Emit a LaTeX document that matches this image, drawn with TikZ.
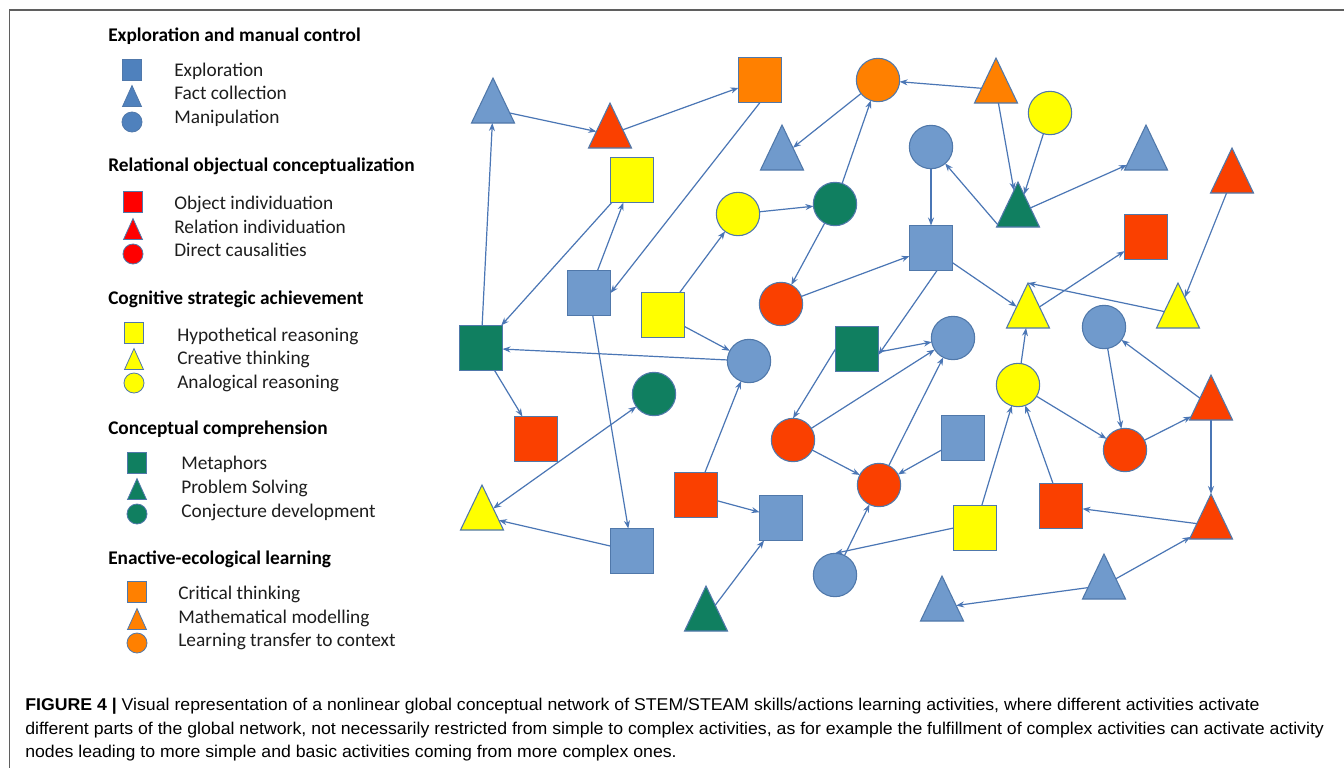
\documentclass[tikz,border=0pt]{standalone}
\usepackage{graphicx}
\usepackage{fontspec}
\setmainfont{Carlito}
\newfontfamily\capfont{Liberation Sans}
\usetikzlibrary{shapes.geometric,arrows.meta,calc}

\definecolor{nblue}{RGB}{112,154,204}
\definecolor{lblue}{RGB}{79,129,189}
\definecolor{nred}{RGB}{250,64,0}
\definecolor{lred}{RGB}{255,0,0}
\definecolor{nyel}{RGB}{255,255,0}
\definecolor{ngreen}{RGB}{16,127,96}
\definecolor{norange}{RGB}{255,128,0}
\definecolor{bord}{RGB}{80,120,170}
\definecolor{edgec}{RGB}{74,118,181}
\definecolor{framec}{RGB}{95,95,95}
\definecolor{txt}{RGB}{30,30,30}
\definecolor{captxt}{RGB}{50,50,50}

\newsavebox\capA \newsavebox\capB \newsavebox\capC
\newcommand\capsize{\capfont\fontsize{12.8pt}{16pt}\selectfont}
\newlength\capBw

\begin{document}
\sbox\capA{\capsize\textbf{FIGURE 4 |} Visual representation of a nonlinear global conceptual network of STEM/STEAM skills/actions learning activities, where different activities activate}%
\sbox\capB{\capsize different parts of the global network, not necessarily restricted from simple to complex activities, as for example the fulfillment of complex activities can activate activity}%
\sbox\capC{\capsize nodes leading to more simple and basic activities coming from more complex ones.}%
\setlength\capBw{\wd\capB}%
\begin{tikzpicture}[x=0.75pt,y=-0.75pt,
  sq/.style={rectangle,draw=bord,line width=0.8pt,minimum width=32.25pt,minimum height=33.75pt,inner sep=0pt,outer sep=0pt},
  ci/.style={circle,draw=bord,line width=0.8pt,minimum size=32.5pt,inner sep=0pt,outer sep=0pt},
  tr/.style={isosceles triangle,isosceles triangle stretches,shape border rotate=90,draw=bord,line width=0.8pt,minimum width=32.25pt,minimum height=33.75pt,inner sep=0pt,outer sep=0pt,anchor=apex},
  lsq/.style={rectangle,draw=bord,line width=0.6pt,minimum width=14.25pt,minimum height=15.75pt,inner sep=0pt},
  lci/.style={circle,draw=bord,line width=0.6pt,minimum size=15pt,inner sep=0pt},
  ltr/.style={isosceles triangle,isosceles triangle stretches,shape border rotate=90,draw=bord,line width=0.6pt,minimum width=14.25pt,minimum height=15.75pt,inner sep=0pt,anchor=apex},
  arr/.style={draw=edgec,line width=0.9pt,-{Stealth[length=6pt,width=4.5pt]}},
  head/.style={anchor=base west,inner sep=0pt,font=\fontsize{14.5pt}{17pt}\selectfont\bfseries,text=black},
  item/.style={anchor=base west,inner sep=0pt,font=\fontsize{14.5pt}{17pt}\selectfont,text=txt},
  capline/.style={anchor=base west,inner sep=0pt,text=captxt}
]
\pgfmathsetmacro\capsc{974/\capBw}
\useasboundingbox (0,0) rectangle (1344,768);
\fill[white] (0,0) rectangle (1344,768);
% frame
\coordinate (fa) at (1344,10);
\coordinate (fb) at (9.5,10);
\coordinate (fc) at (9.5,768);
\draw[framec,line width=1pt] (fa) -- (fb) -- (fc);

% ---------------- legend ----------------
\node[head] (h1) at (108,41) {Exploration and manual control};
\node[lsq,fill=lblue] (l11) at (132,70) {};
\node[ltr,fill=lblue] (l12) at (132,84.5) {};
\node[lci,fill=lblue] (l13) at (132,122) {};
\node[item] (i11) at (174,76) {Exploration};
\node[item] (i12) at (174,99) {Fact collection};
\node[item] (i13) at (174,123) {Manipulation};

\node[head] (h2) at (108,171) {Relational objectual conceptualization};
\node[lsq,fill=lred] (l21) at (133,202) {};
\node[ltr,fill=lred] (l22) at (133,217.5) {};
\node[lci,fill=lred] (l23) at (133,254) {};
\node[item] (i21) at (174,209) {Object individuation};
\node[item] (i22) at (174,233) {Relation individuation};
\node[item] (i23) at (174,256) {Direct causalities};

\node[head] (h3) at (108,304) {Cognitive strategic achievement};
\node[lsq,fill=nyel] (l31) at (134,333) {};
\node[ltr,fill=nyel] (l32) at (134,347.5) {};
\node[lci,fill=nyel] (l33) at (134,383) {};
\node[item] (i31) at (177,341) {Hypothetical reasoning};
\node[item] (i32) at (177,364) {Creative thinking};
\node[item] (i33) at (177,388) {Analogical reasoning};

\node[head] (h4) at (108,434) {Conceptual comprehension};
\node[lsq,fill=ngreen] (l41) at (137,463) {};
\node[ltr,fill=ngreen] (l42) at (137,477.5) {};
\node[lci,fill=ngreen] (l43) at (137,514) {};
\node[item] (i41) at (181,469) {Metaphors};
\node[item] (i42) at (181,493) {Problem Solving};
\node[item] (i43) at (181,517) {Conjecture development};

\node[head] (h5) at (108,564) {Enactive-ecological learning};
\node[lsq,fill=norange] (l51) at (137,592) {};
\node[ltr,fill=norange] (l52) at (137,607.5) {};
\node[lci,fill=norange] (l53) at (137,643) {};
\node[item] (i51) at (178,599) {Critical thinking};
\node[item] (i52) at (178,623) {Mathematical modelling};
\node[item] (i53) at (178,646) {Learning transfer to context};

% ---------------- network nodes ----------------
% squares
\node[sq,fill=norange] (o1) at (760,80) {};
\node[sq,fill=nyel] (ys1) at (632,180) {};
\node[sq,fill=nred] (rs1) at (1146,237) {};
\node[sq,fill=nblue] (b2) at (931,248) {};
\node[sq,fill=nblue] (b1) at (589,293) {};
\node[sq,fill=nyel] (ys2) at (663,315) {};
\node[sq,fill=ngreen] (g1) at (481,348) {};
\node[sq,fill=ngreen] (g2) at (857,349) {};
\node[sq,fill=nred] (rs2) at (536,439) {};
\node[sq,fill=nblue] (b5) at (963,438) {};
\node[sq,fill=nred] (rs3) at (696,495) {};
\node[sq,fill=nred] (rs4) at (1061,506) {};
\node[sq,fill=nblue] (b3) at (781,518) {};
\node[sq,fill=nyel] (ys3) at (975,528) {};
\node[sq,fill=nblue] (b4) at (632,551) {};
% circles
\node[ci,fill=norange] (oc) at (878,80) {};
\node[ci,fill=nyel] (yc2) at (1050,113) {};
\node[ci,fill=nblue] (bc1) at (931,147) {};
\node[ci,fill=nyel] (yc1) at (738,214) {};
\node[ci,fill=ngreen] (gc1) at (835,204) {};
\node[ci,fill=nred] (rc1) at (781,304) {};
\node[ci,fill=nblue] (bc2) at (1104,327) {};
\node[ci,fill=nblue] (bc3) at (953,338) {};
\node[ci,fill=nblue] (bc4) at (749,361) {};
\node[ci,fill=ngreen] (gc2) at (654,394) {};
\node[ci,fill=nyel] (yc3) at (1018,385) {};
\node[ci,fill=nred] (rc2) at (793,440) {};
\node[ci,fill=nred] (rc4) at (1125,450) {};
\node[ci,fill=nred] (rc3) at (879,485) {};
\node[ci,fill=nblue] (bc5) at (835,575) {};
% triangles (placed by apex)
\node[tr,fill=nblue] (t1) at (493,78) {};
\node[tr,fill=nred] (r1) at (610,103) {};
\node[tr,fill=norange] (ot) at (996,58) {};
\node[tr,fill=nblue] (t2) at (782,125) {};
\node[tr,fill=nblue] (t3) at (1146,125) {};
\node[tr,fill=nred] (rt2) at (1232,148) {};
\node[tr,fill=ngreen] (gt1) at (1018,182) {};
\node[tr,fill=nyel] (yt1) at (1028,283) {};
\node[tr,fill=nyel] (yt2) at (1178,283) {};
\node[tr,fill=nred] (rt3) at (1211,375) {};
\node[tr,fill=nyel] (yt3) at (482,485) {};
\node[tr,fill=nred] (rt4) at (1211,494) {};
\node[tr,fill=nblue] (t4) at (1104,554) {};
\node[tr,fill=nblue] (t5) at (942,576) {};
\node[tr,fill=ngreen] (gt2) at (706,586) {};

% ---------------- connectors ----------------
\draw[arr] (t1) -- (r1);
\draw[arr] (r1) -- (o1);
\draw[arr] (g1) -- (t1);
\draw[arr] (ys1) -- (g1);
\draw[arr] (b1) -- (ys1);
\draw[arr] (o1.south) -- (b1.east);
\draw[arr] (oc) -- (t2);
\draw[arr] (gc1) -- (oc);
\draw[arr] (yc1) -- (gc1);
\draw[arr] (ys2) -- (yc1);
\draw[arr] (gc1) -- (rc1);
\draw[arr] (rc1) -- (b2);
\draw[arr] (b1) -- (b4);
\draw[arr] (ys2) -- (bc4);
\draw[arr] (ot) -- (oc);
\draw[arr] (ot) -- (gt1);
\draw[arr] (yc2) -- (gt1);
\draw[arr] ($(gt1.apex)+(-20,43)$) -- (bc1);
\draw[arr] (gt1) -- (t3);
\draw[arr] (bc1) -- (b2);
\draw[arr] (b2) -- (yt1);
\draw[arr] (yt1) -- (rs1);
\draw[arr] (yt2) -- (yt1.apex);
\draw[arr] (rt2) -- (yt2);
\draw[arr] (b2.-75) -- (g2.-15);
\draw[arr] (g2.-8) -- (bc3);
\draw[arr] (rt3) -- (bc2);
\draw[arr] (yc3) -- (yt1);
\draw[arr] (bc4) -- (g1);
\draw[arr] (g1) -- (rs2);
\draw[arr,{Stealth[length=6pt,width=4.5pt]}-{Stealth[length=6pt,width=4.5pt]}] (gc2) -- (yt3);
\draw[arr] (b4) -- (yt3);
\draw[arr] (rs3) -- (bc4);
\draw[arr] (rs3) -- (b3);
\draw[arr] (gt2) -- (b3);
\draw[arr] (g2.west) -- (rc2.north);
\draw[arr] (rc2) -- (rc3);
\draw[arr] (rc2) -- (bc3);
\draw[arr] (rc3) -- (bc3);
\draw[arr] (b5) -- (rc3);
\draw[arr] (bc5) -- (rc3);
\draw[arr] (ys3.west) -- (bc5.north);
\draw[arr] (ys3) -- (yc3);
\draw[arr] (rs4) -- (yc3);
\draw[arr] (yc3) -- (rc4);
\draw[arr] (bc2) -- (rc4);
\draw[arr] (rc4) -- (rt3);
\draw[arr] (rt3) -- (rt4);
\draw[arr] (rt4) -- (rs4);
\draw[arr] (t4) -- (rt4);
\draw[arr] (t4) -- (t5);

% ---------------- caption ----------------
\node[capline] (cap1) at (25,710) {\scalebox{\capsc}[1]{\usebox\capA}};
\node[capline] (cap2) at (25,734) {\scalebox{\capsc}[1]{\usebox\capB}};
\node[capline] (cap3) at (25,757) {\scalebox{\capsc}[1]{\usebox\capC}};
\end{tikzpicture}
\end{document}
